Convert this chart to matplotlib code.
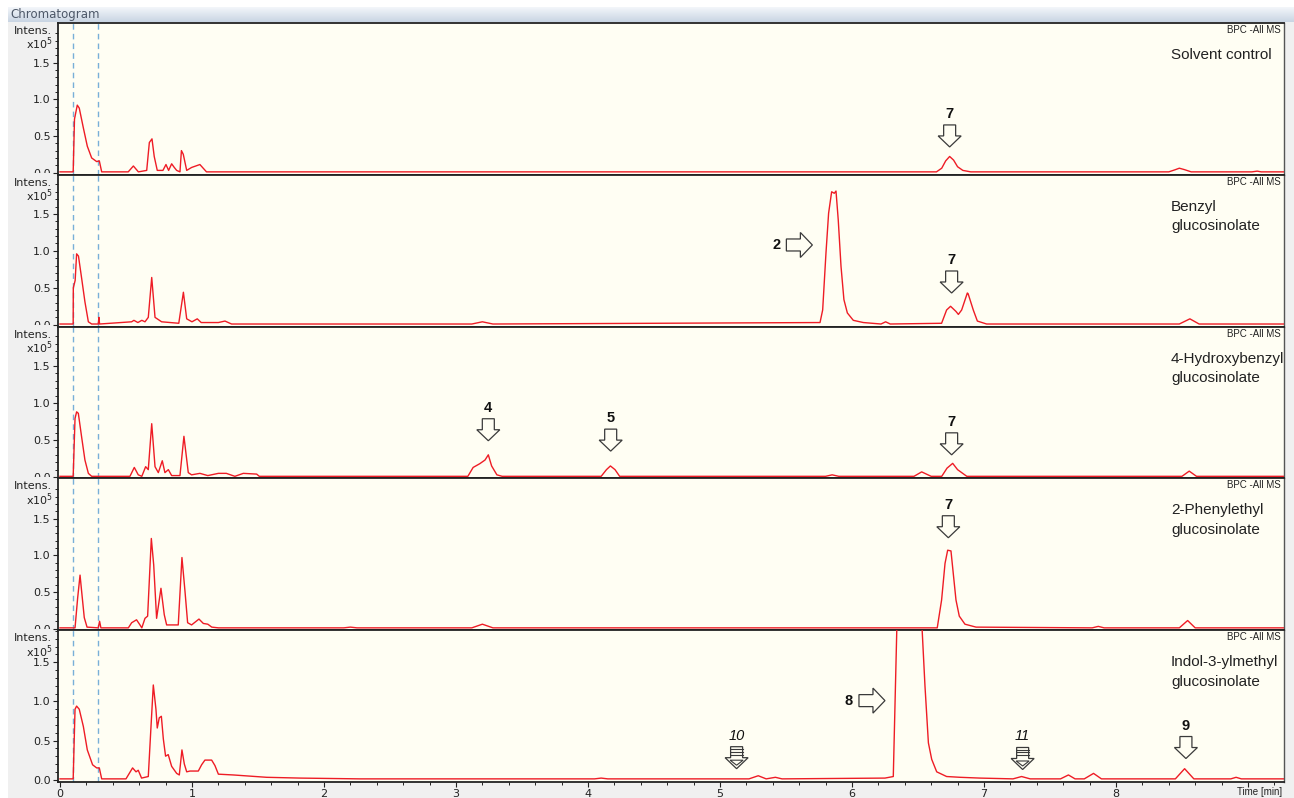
import matplotlib
matplotlib.use("Agg")
import matplotlib.pyplot as plt
import matplotlib.transforms as mtransforms
import numpy as np
from matplotlib.colors import LinearSegmentedColormap
from matplotlib.patches import Polygon, Rectangle
from matplotlib.ticker import FixedLocator

# ---------------------------------------------------------------------------
# Traces (time in min, intensity in 1e5 counts)
# ---------------------------------------------------------------------------
solvent_t = [0, 0.10, 0.11, 0.131, 0.146, 0.177, 0.207, 0.24, 0.278, 0.298, 0.316,
             0.517, 0.556, 0.594, 0.657, 0.677, 0.697, 0.714, 0.737, 0.78, 0.803,
             0.823, 0.846, 0.866, 0.884, 0.909, 0.92, 0.934, 0.96, 0.997, 1.06, 1.11,
             6.64, 6.68, 6.71, 6.74, 6.77, 6.80, 6.84, 6.90,
             8.40, 8.45, 8.48, 8.52, 8.57, 9.03, 9.07, 9.10, 9.27]
solvent_i = [0.01, 0.01, 0.73, 0.92, 0.88, 0.61, 0.36, 0.20, 0.15, 0.16, 0.01,
             0.01, 0.09, 0.01, 0.03, 0.41, 0.46, 0.22, 0.03, 0.03, 0.11,
             0.03, 0.12, 0.07, 0.03, 0.01, 0.30, 0.25, 0.03, 0.07, 0.11, 0.01,
             0.01, 0.06, 0.16, 0.22, 0.17, 0.08, 0.03, 0.01,
             0.01, 0.04, 0.06, 0.04, 0.01, 0.01, 0.02, 0.01, 0.01]

benzyl_t = [0, 0.10, 0.101, 0.115, 0.126, 0.14, 0.164, 0.189, 0.215, 0.24, 0.29,
            0.295, 0.30, 0.543, 0.56, 0.59, 0.62, 0.644, 0.669, 0.695, 0.72, 0.77,
            0.90, 0.935, 0.96, 1.00, 1.04, 1.07, 1.20, 1.25, 1.30,
            3.12, 3.20, 3.28,
            5.758, 5.778, 5.803, 5.823, 5.846, 5.866, 5.879, 5.896, 5.917, 5.939,
            5.965, 6.01, 6.086, 6.22, 6.255, 6.29,
            6.679, 6.717, 6.747, 6.788, 6.806, 6.831, 6.874, 6.88, 6.919, 6.95, 7.02,
            8.48, 8.56, 8.63, 9.27]
benzyl_i = [0.01, 0.01, 0.50, 0.60, 0.96, 0.93, 0.63, 0.31, 0.04, 0.01, 0.01,
            0.10, 0.01, 0.04, 0.06, 0.03, 0.06, 0.04, 0.10, 0.64, 0.10, 0.04,
            0.02, 0.44, 0.08, 0.04, 0.08, 0.03, 0.03, 0.05, 0.01,
            0.01, 0.04, 0.01,
            0.03, 0.20, 0.97, 1.51, 1.80, 1.78, 1.81, 1.42, 0.79, 0.34,
            0.16, 0.06, 0.03, 0.01, 0.04, 0.01,
            0.02, 0.20, 0.25, 0.18, 0.14, 0.20, 0.43, 0.42, 0.20, 0.05, 0.01,
            0.01, 0.08, 0.01, 0.01]

hydroxy_t = [0, 0.10, 0.114, 0.126, 0.139, 0.164, 0.189, 0.215, 0.24, 0.53, 0.563,
             0.593, 0.62, 0.649, 0.669, 0.695, 0.72, 0.745, 0.775, 0.795, 0.821,
             0.846, 0.909, 0.939, 0.972, 0.997, 1.06, 1.12, 1.20, 1.26, 1.325,
             1.389, 1.49, 1.51,
             3.09, 3.13, 3.18, 3.22, 3.245, 3.27, 3.31, 3.35,
             4.10, 4.14, 4.17, 4.205, 4.24,
             5.80, 5.85, 5.90, 6.47, 6.528, 6.60,
             6.68, 6.72, 6.763, 6.80, 6.87, 8.50, 8.555, 8.61, 9.27]
hydroxy_i = [0.01, 0.01, 0.79, 0.88, 0.86, 0.54, 0.23, 0.05, 0.01, 0.01, 0.13,
             0.03, 0.01, 0.14, 0.10, 0.72, 0.14, 0.06, 0.22, 0.06, 0.10,
             0.02, 0.02, 0.55, 0.06, 0.03, 0.05, 0.02, 0.05, 0.05, 0.01,
             0.05, 0.04, 0.01,
             0.01, 0.13, 0.18, 0.23, 0.30, 0.15, 0.03, 0.01,
             0.01, 0.10, 0.15, 0.10, 0.01,
             0.01, 0.03, 0.01, 0.01, 0.07, 0.01,
             0.01, 0.12, 0.185, 0.10, 0.01, 0.01, 0.08, 0.01, 0.01]

phenyl_t = [0, 0.114, 0.134, 0.152, 0.164, 0.184, 0.205, 0.29, 0.30, 0.31,
            0.518, 0.543, 0.58, 0.606, 0.62, 0.644, 0.664, 0.692, 0.71, 0.732,
            0.765, 0.79, 0.808, 0.896, 0.924, 0.947, 0.967, 0.997, 1.053, 1.086,
            1.12, 1.15, 1.20, 1.38, 2.15, 2.20, 2.25, 3.12, 3.20, 3.28,
            6.646, 6.679, 6.705, 6.725, 6.75, 6.767, 6.788, 6.813, 6.856, 6.94,
            7.82, 7.866, 7.91, 8.48, 8.543, 8.60, 9.27]
phenyl_i = [0.01, 0.01, 0.42, 0.73, 0.51, 0.15, 0.02, 0.01, 0.10, 0.01,
            0.01, 0.08, 0.12, 0.05, 0.01, 0.14, 0.17, 1.23, 0.87, 0.14,
            0.55, 0.19, 0.05, 0.05, 0.97, 0.51, 0.08, 0.05, 0.13, 0.07,
            0.06, 0.02, 0.01, 0.01, 0.01, 0.02, 0.01, 0.01, 0.06, 0.01,
            0.01, 0.39, 0.89, 1.07, 1.06, 0.76, 0.39, 0.17, 0.06, 0.02,
            0.01, 0.03, 0.01, 0.01, 0.11, 0.01, 0.01]

indol_t = [0, 0.10, 0.114, 0.126, 0.146, 0.177, 0.207, 0.247, 0.278, 0.298, 0.316,
           0.50, 0.55, 0.576, 0.593, 0.618, 0.669, 0.687, 0.707, 0.727, 0.737,
           0.752, 0.768, 0.783, 0.80, 0.82, 0.846, 0.884, 0.904, 0.924, 0.942,
           0.96, 0.985, 1.048, 1.073, 1.098, 1.149, 1.174, 1.20, 1.313, 1.566,
           1.82, 2.27, 4.05, 4.10, 4.15, 5.22, 5.29, 5.35, 5.42, 5.47,
           6.25, 6.313, 6.345, 6.43, 6.52, 6.553, 6.579, 6.604, 6.642, 6.717,
           6.82, 6.97, 7.22, 7.285, 7.35, 7.58, 7.64, 7.69, 7.76, 7.83, 7.89,
           8.45, 8.52, 8.59, 8.87, 8.91, 8.95, 9.27]
indol_i = [0.01, 0.01, 0.90, 0.94, 0.90, 0.68, 0.38, 0.19, 0.15, 0.15, 0.01,
           0.01, 0.15, 0.10, 0.12, 0.02, 0.04, 0.60, 1.21, 0.90, 0.66,
           0.79, 0.81, 0.52, 0.30, 0.32, 0.17, 0.08, 0.06, 0.38, 0.20,
           0.10, 0.11, 0.11, 0.19, 0.25, 0.25, 0.18, 0.07, 0.06, 0.03,
           0.02, 0.01, 0.01, 0.02, 0.01, 0.01, 0.05, 0.01, 0.03, 0.01,
           0.02, 0.04, 2.30, 2.60, 2.30, 1.20, 0.47, 0.26, 0.10, 0.04,
           0.03, 0.02, 0.01, 0.04, 0.01, 0.01, 0.06, 0.01, 0.01, 0.08, 0.01,
           0.01, 0.14, 0.01, 0.01, 0.03, 0.01, 0.01]

panel_names = ["Solvent control", "Benzyl\nglucosinolate",
               "4-Hydroxybenzyl\nglucosinolate", "2-Phenylethyl\nglucosinolate",
               "Indol-3-ylmethyl\nglucosinolate"]
panel_ymax = [2.04, 2.03, 2.03, 2.05, 1.91]
panel_ymin = [-0.03, -0.025, -0.018, -0.022, -0.03]

y_ticks = [0, 0.5, 1.0, 1.5]
y_ticklabels = ["0.0", "0.5", "1.0", "1.5"]
x_ticks = list(range(10))
x_ticklabels = ["0", "1", "2", "3", "4", "5", "6", "7", "8", ""]  # 9 sits under "Time [min]"

# peak markers: panel, label, arrow-tip time, arrow-tip intensity, direction, style
mark_panel = [0, 1, 1, 2, 2, 2, 3, 4, 4, 4, 4]
mark_label = ["7", "2", "7", "4", "5", "7", "7", "8", "10", "11", "9"]
mark_t = [6.74, 5.70, 6.755, 3.245, 4.172, 6.755, 6.73, 6.25, 5.126, 7.293, 8.53]
mark_i = [0.35, 1.08, 0.43, 0.49, 0.35, 0.30, 1.24, 1.01, 0.14, 0.13, 0.27]
mark_dir = ["down", "right", "down", "down", "down", "down", "down", "right",
            "down", "down", "down"]
mark_style = ["plain"] * 8 + ["striped", "striped", "plain"]

divert_t = [0.098, 0.288]  # dashed segment markers

W, H = 1294, 798
BG = "#fffef3"
RED = "#ee1c25"
EDGE = "#3a3a3a"
INK = "#222222"

traces = [(solvent_t, solvent_i), (benzyl_t, benzyl_i), (hydroxy_t, hydroxy_i),
          (phenyl_t, phenyl_i), (indol_t, indol_i)]

fig = plt.figure(figsize=(W / 100, H / 100), dpi=100, facecolor="white")
fig.add_artist(Rectangle((8 / W, 0), 1, 1 - 7 / H, transform=fig.transFigure,
                         facecolor="#f0f0f0", edgecolor="none", zorder=0))

# title bar
bar = fig.add_axes([8 / W, 1 - 22 / H, 1 - 8 / W, 15 / H])
grad = np.linspace(0, 1, 32).reshape(-1, 1)
bar.imshow(grad, aspect="auto", cmap=LinearSegmentedColormap.from_list(
    "bar", ["#f3f6fa", "#c9d5e3"]))
bar.set_axis_off()
fig.text(10 / W, 1 - 14.5 / H, "Chromatogram", fontsize=8.5, color="#4d5868",
         va="center", ha="left")

left, right = 58 / W, 1284 / W
top, bottom = 1 - 23 / H, 1 - 782 / H
ph = (top - bottom) / 5
axes = []
for i in range(5):
    ax = fig.add_axes([left, top - (i + 1) * ph, right - left, ph])
    ax.set_facecolor(BG)
    t, y = traces[i]
    ax.plot(t, y, color=RED, lw=1.0, zorder=3)
    for xv in divert_t:
        ax.axvline(xv, color="#78afd8", lw=1.0, dashes=(4, 3), zorder=2)
    ax.set_xlim(-0.015, 9.273)
    ax.set_ylim(panel_ymin[i], panel_ymax[i])

    ax.yaxis.set_major_locator(FixedLocator(y_ticks))
    ax.yaxis.set_minor_locator(FixedLocator(
        [k / 10 for k in range(21) if k % 5 != 0]))
    ax.set_yticklabels(y_ticklabels)
    ax.tick_params(axis="y", which="major", length=3.6, width=0.8, pad=1.5,
                   labelsize=8, colors=INK)
    ax.tick_params(axis="y", which="minor", length=2.2, width=0.7, colors=INK)
    if i < 4:
        ax.tick_params(axis="x", which="both", bottom=False, labelbottom=False)
    else:
        ax.xaxis.set_major_locator(FixedLocator(x_ticks))
        ax.set_xticklabels(x_ticklabels)
        ax.xaxis.set_minor_locator(FixedLocator(
            [k / 5 for k in range(47) if k % 5 != 0]))
        ax.tick_params(axis="x", which="major", length=3.6, width=0.8, pad=1.5,
                       labelsize=8, colors=INK)
        ax.tick_params(axis="x", which="minor", length=2.2, width=0.7, colors=INK)
    for side in ["left", "top", "bottom"]:
        ax.spines[side].set_color(INK)
        ax.spines[side].set_linewidth(1.3)
    ax.spines["right"].set_color("#555555")
    ax.spines["right"].set_linewidth(1.0)

    ax.annotate("Intens.", xy=(0, 1), xycoords="axes fraction", xytext=(-6, -8),
                textcoords="offset pixels", ha="right", va="center", fontsize=8,
                color=INK)
    ax.annotate(r"x10$^5$", xy=(0, 1), xycoords="axes fraction", xytext=(-5, -21),
                textcoords="offset pixels", ha="right", va="center", fontsize=8,
                color=INK)
    ax.annotate("BPC -All MS", xy=(1, 1), xycoords="axes fraction", xytext=(-3, -7),
                textcoords="offset pixels", ha="right", va="center", fontsize=7,
                family="Liberation Sans", color=INK)
    ax.annotate(panel_names[i], xy=(0.9078, 1), xycoords="axes fraction",
                xytext=(0, -25), textcoords="offset pixels", ha="left", va="top",
                fontsize=11, family="Liberation Sans", color=INK,
                linespacing=1.5)
    axes.append(ax)

axes[-1].annotate("Time [min]", xy=(1, 0), xycoords="axes fraction",
                  xytext=(-2, -10), textcoords="offset pixels", ha="right",
                  va="center", fontsize=7, family="Liberation Sans", color=INK)

# clip the lowest y label of the upper panels like the acquisition software does
for ax in axes[:4]:
    bb = ax.get_position()
    clip = mtransforms.TransformedBbox(
        mtransforms.Bbox.from_extents(0, bb.y0 + 1.5 / H, bb.x0, bb.y1),
        fig.transFigure)
    for lbl in ax.get_yticklabels():
        lbl.set_clip_box(clip)
        lbl.set_clip_on(True)

# hollow block arrows marking the peaks
DOWN = [(0, 0), (-11.5, 11), (-6, 11), (-6, 22), (6, 22), (6, 11), (11.5, 11)]
RIGHT = [(0, 0), (-12, 12.5), (-12, 6), (-26, 6), (-26, -6), (-12, -6), (-12, -12.5)]

for p, lab, mt, mi, d, st in zip(mark_panel, mark_label, mark_t, mark_i,
                                 mark_dir, mark_style):
    ax = axes[p]
    px, py = ax.transData.transform((mt, mi))
    shape = DOWN if d == "down" else RIGHT
    ax.add_patch(Polygon([(px + dx, py + dy) for dx, dy in shape], closed=True,
                         transform=mtransforms.IdentityTransform(), facecolor=BG,
                         edgecolor=EDGE, lw=0.9, zorder=5, clip_on=False))
    if st == "striped":
        for dy in (14, 17, 19.5):
            ax.plot([px - 6, px + 6], [py + dy, py + dy], color=EDGE, lw=0.8,
                    transform=mtransforms.IdentityTransform(), zorder=6)
        ax.add_patch(Polygon([(px, py + 3.5), (px - 6.5, py + 8.5),
                              (px + 6.5, py + 8.5)], closed=True,
                             transform=mtransforms.IdentityTransform(),
                             facecolor="none", edgecolor=EDGE, lw=0.8, zorder=6))
    off = (0, 33) if d == "down" else (-36, 0)
    ax.annotate(lab, xy=(mt, mi), xytext=off, textcoords="offset pixels",
                ha="center", va="center", fontsize=10.5, family="Liberation Sans",
                fontweight="normal" if st == "striped" else "bold",
                fontstyle="italic" if st == "striped" else "normal",
                color="#111111", zorder=6)

fig.savefig("out.png", dpi=100, facecolor=fig.get_facecolor())
